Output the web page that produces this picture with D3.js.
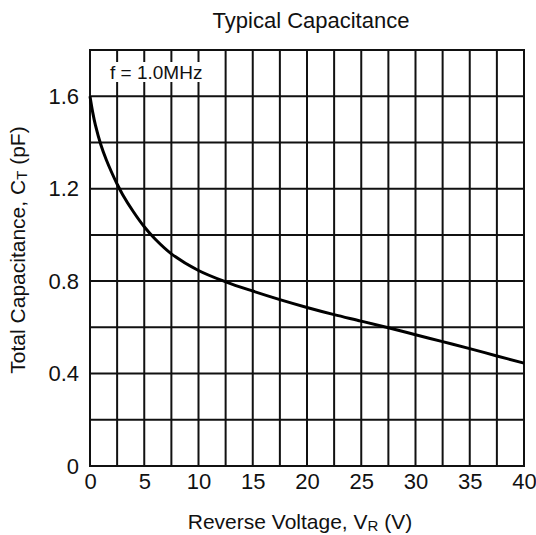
<!DOCTYPE html>
<html><head><meta charset="utf-8">
<script src="https://cdn.jsdelivr.net/npm/d3@7"></script>
<style>body{margin:0;background:#fff}svg{display:block}text{font-family:"Liberation Sans",Arial,sans-serif;fill:#111}</style>
</head><body><svg id="c" width="536" height="535"></svg>
<script>
const voltage = [0,0.25,0.5,1,1.5,2,2.5,3,4,5,6,7.5,10,12.5,15,17.5,20,22.5,25,27.5,30,32.5,35,37.5,40];
const capacitance = [1.60,1.53,1.475,1.39,1.325,1.27,1.22,1.175,1.10,1.035,0.982,0.918,0.846,0.797,0.757,0.72,0.686,0.655,0.627,0.598,0.568,0.538,0.508,0.476,0.445];
const xTicks = [0,5,10,15,20,25,30,35,40];
const yTicks = [0,0.4,0.8,1.2,1.6];
const xGrid = d3.range(0,40.01,2.5);
const yGrid = d3.range(0,1.801,0.2);

const svg = d3.select("#c");
const L=90,R=524,T=50,B=466;
const x = d3.scaleLinear().domain([0,40]).range([L,R]);
const y = d3.scaleLinear().domain([0,1.8]).range([B,T]);
const FF = '"Liberation Sans",Arial,sans-serif';

const g = svg.append("g");
g.selectAll("line.v").data(xGrid).enter().append("line")
 .attr("x1",d=>x(d)).attr("x2",d=>x(d)).attr("y1",T).attr("y2",B)
 .attr("stroke","#111").attr("stroke-width",2);
g.selectAll("line.h").data(yGrid).enter().append("line")
 .attr("y1",d=>y(d)).attr("y2",d=>y(d)).attr("x1",L).attr("x2",R)
 .attr("stroke","#111").attr("stroke-width",2);
g.append("rect").attr("x",L).attr("y",T).attr("width",R-L).attr("height",B-T)
 .attr("fill","none").attr("stroke","#111").attr("stroke-width",2);

// annotation box
g.append("rect").attr("x",107).attr("y",62).attr("width",100).attr("height",20).attr("fill","#fff");
g.append("text").attr("x",110).attr("y",79).attr("font-size",19).text("f = 1.0MHz");

const xAxis = d3.axisBottom(x).tickValues(xTicks).tickSize(0).tickPadding(7).tickFormat(d3.format("d"));
const ax = svg.append("g").attr("transform",`translate(0,${B})`).call(xAxis);
ax.select(".domain").remove();
ax.selectAll("text").attr("font-size",22).style("font-family",FF).attr("fill","#111");

const yAxis = d3.axisLeft(y).tickValues(yTicks).tickSize(0).tickPadding(11).tickFormat(d=>d===0?"0":d3.format(".1f")(d));
const ay = svg.append("g").attr("transform",`translate(${L},0)`).call(yAxis);
ay.select(".domain").remove();
ay.selectAll("text").attr("font-size",22).style("font-family",FF).attr("fill","#111");

const line = d3.line().x((d,i)=>x(voltage[i])).y(d=>y(d)).curve(d3.curveCatmullRom.alpha(0.5));
svg.append("path").datum(capacitance).attr("d",line).attr("fill","none").attr("stroke","#000").attr("stroke-width",3);

svg.append("text").attr("x",311).attr("y",28).attr("text-anchor","middle").attr("font-size",22).text("Typical Capacitance");

const xt = svg.append("text").attr("x",300).attr("y",529).attr("text-anchor","middle").attr("font-size",21);
xt.append("tspan").text("Reverse Voltage, V");
xt.append("tspan").attr("font-size",15).attr("dy",2).text("R");
xt.append("tspan").attr("dy",-2).text(" (V)");

const yt = svg.append("text").attr("transform","translate(25,250) rotate(-90)").attr("text-anchor","middle").attr("font-size",21);
yt.append("tspan").text("Total Capacitance, C");
yt.append("tspan").attr("font-size",15).attr("dy",2).text("T");
yt.append("tspan").attr("dy",-2).text(" (pF)");
</script></body></html>
